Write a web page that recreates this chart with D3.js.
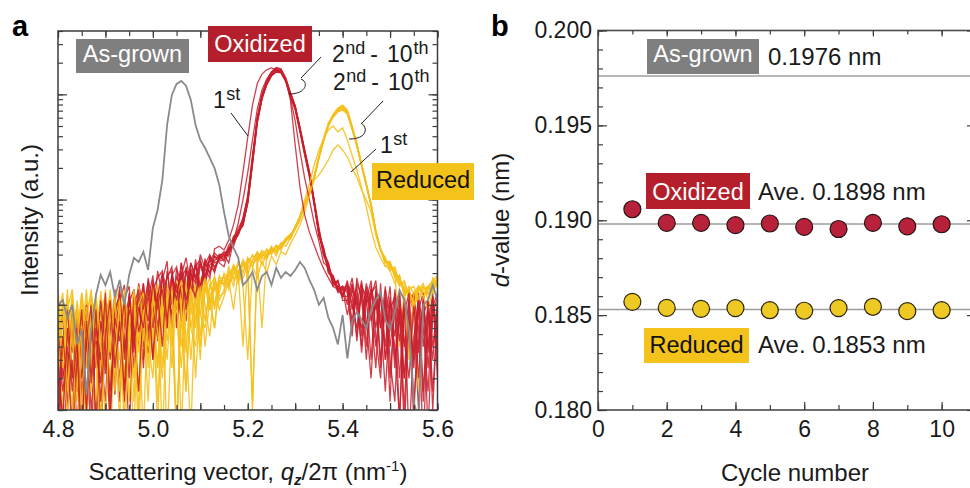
<!DOCTYPE html>
<html>
<head>
<meta charset="utf-8">
<script src="https://cdn.jsdelivr.net/npm/d3@7"></script>
<style>
  body { margin: 0; background: #fff; }
  svg { font-family: "Liberation Sans", Arial, sans-serif; }
</style>
</head>
<body>
<svg id="chart" width="970" height="488"></svg>
<script>
// ---------- panel a: XRD profiles ----------
// scattering vector q_z/2pi (nm^-1)
let qValues = [4.80,4.81,4.82,4.83,4.84,4.85,4.86,4.87,4.88,4.89,4.90,4.91,4.92,4.93,4.94,4.95,4.96,4.97,4.98,4.99,
  5.00,5.01,5.02,5.03,5.04,5.05,5.06,5.07,5.08,5.09,5.10,5.11,5.12,5.13,5.14,5.15,5.16,5.17,5.18,5.19,
  5.20,5.21,5.22,5.23,5.24,5.25,5.26,5.27,5.28,5.29,5.30,5.31,5.32,5.33,5.34,5.35,5.36,5.37,5.38,5.39,
  5.40,5.41,5.42,5.43,5.44,5.45,5.46,5.47,5.48,5.49,5.50,5.51,5.52,5.53,5.54,5.55,5.56,5.57,5.58,5.59,5.60];

let asGrown = [100,111,75,100,42,58,14,58,124,192,154,205,119,172,100,192,279,255,318,214,
  537,796,1535,5120,9870,12560,13400,12020,8850,5120,3690,3090,2485,1995,1377,762,451,347,279,154,
  172,205,138,188,205,154,224,180,205,188,214,255,224,172,138,100,116,75,60,42,
  80,31,69,86,72,60,89,111,132,72,58,86,138,111,58,12,8,100,111,154,111];

// oxidized, cycles 1..10
let oxidized1 = [30,8,60,15,45,5,70,20,90,12,55,110,25,70,15,130,40,95,60,150,30,120,200,70,180,110,250,90,200,160,300,220,180,340,360,
  332,413,574,889,1830,3900,7900,12600,15600,17100,17800,17100,16300,13700,8800,3300,1320,710,490,370,280,220,180,150,140,120,
  150,60,130,35,110,170,50,20,120,40,100,8,85,130,25,95,12,110,40,90];
let oxidized2 = [12,50,20,80,6,40,100,18,60,30,130,10,75,45,110,20,140,55,90,170,60,130,40,210,100,160,70,230,150,120,260,190,280,230,270,
  300,250,410,600,1000,1800,3700,7200,11000,14000,16200,17400,16800,13600,9200,5600,2900,1600,1000,600,400,250,230,150,170,110,
  110,160,45,140,70,20,130,60,150,30,12,110,45,20,100,35,120,6,80,120];
let oxidized3 = [70,20,40,5,30,90,10,55,25,110,40,8,80,130,35,90,60,15,120,70,160,95,140,60,190,130,210,110,170,240,150,250,200,290,250,
  230,330,360,500,560,930,2200,5400,9100,12500,15200,16500,16300,13900,10200,7700,4800,2900,1800,980,520,300,250,160,170,120,
  170,90,150,50,140,80,25,160,30,110,50,130,20,70,8,110,40,100,15,75];
let oxidized4 = [8,35,90,20,60,12,45,100,6,70,25,85,40,150,18,110,50,130,30,180,100,50,200,140,80,220,160,120,250,190,140,270,230,210,290,
  320,290,450,480,680,1050,2500,5900,9800,13300,16200,17800,17300,14100,10100,7500,4500,2700,1650,900,450,330,200,180,130,140,
  80,140,100,170,40,130,150,30,100,12,140,45,110,5,50,90,130,25,100,40];
let oxidized5 = [40,4,25,65,15,50,9,80,35,18,95,30,140,12,70,120,25,85,160,45,150,90,170,260,60,190,130,70,220,180,250,160,290,250,260,
  270,340,380,470,620,950,2300,5600,9300,12600,15300,16600,16400,13500,9700,7300,4600,2800,1750,950,470,340,210,190,140,150,
  130,50,180,110,60,150,90,130,40,120,25,90,10,100,130,20,80,110,10,95];
let oxidized6 = [55,15,35,8,75,20,60,10,40,105,22,70,14,90,50,6,100,140,40,115,30,150,90,190,210,60,180,220,110,270,150,240,300,220,280,
  310,330,440,470,650,1020,2450,5800,9600,13000,15800,17200,16900,14000,10300,7800,4900,3000,1850,1000,540,320,250,165,160,125,
  160,100,60,150,120,30,140,80,15,90,120,20,100,35,120,60,5,70,120,30];
let oxidized7 = [6,45,18,85,30,4,65,22,95,35,12,100,50,20,115,150,35,130,25,150,70,210,120,60,200,100,250,140,210,110,240,180,270,200,300,
  260,350,390,510,570,960,2250,5500,9200,12500,15000,16300,16000,13200,9500,7100,4400,2650,1650,890,480,290,230,160,150,120,
  120,180,90,60,160,100,40,120,70,150,30,100,6,80,30,120,60,15,95,130];
let oxidized8 = [45,80,10,30,5,60,25,100,8,70,35,15,90,125,30,105,140,40,160,55,170,45,140,180,230,90,200,130,250,170,140,260,200,290,270,
  280,370,420,540,640,1100,2600,6100,10000,13500,16400,18000,17500,14400,10400,7700,4700,2850,1750,940,500,300,240,160,150,140,
  140,70,160,120,30,120,170,60,110,20,95,130,40,110,12,45,100,40,130,20];
let oxidized9 = [20,9,60,35,100,14,50,5,55,25,80,115,30,70,12,125,60,160,90,35,140,180,210,80,160,70,190,280,150,240,120,230,260,310,280,
  290,300,410,460,600,920,2150,5300,9000,12300,15000,16400,16200,13600,10000,7600,4750,2900,1780,960,470,350,215,185,140,150,
  100,150,110,40,150,70,120,25,140,80,40,8,120,60,35,130,15,90,30,110];
let oxidized10 = [80,25,12,55,20,90,8,40,75,5,50,95,30,105,155,25,85,115,50,110,190,60,150,90,190,230,100,210,140,230,270,160,240,260,300,
  300,320,430,480,630,1000,2400,5750,9500,12900,15700,17100,16700,13800,9900,7450,4600,2780,1720,935,460,330,210,180,135,145,
  150,120,50,160,100,140,60,130,30,60,130,70,20,140,80,10,110,35,120,50];

// reduced, cycles 1..10
let reduced1 = [40,110,15,80,4,50,95,20,130,45,8,90,30,110,5,60,140,35,90,12,120,55,20,110,150,6,100,15,130,60,150,40,120,160,90,
  120,170,90,210,150,30,230,180,260,200,290,240,320,300,380,460,574,762,1100,1535,1714,2000,2377,2960,3300,
  2960,2540,2000,1620,1232,990,762,460,332,240,210,160,190,120,140,100,150,120,90,140,160];
let reduced2 = [90,25,120,40,100,10,75,140,30,5,85,35,120,15,95,40,6,100,130,45,20,140,60,160,25,120,170,50,6,140,80,180,110,60,150,
  190,140,240,170,260,210,12,250,300,280,340,310,390,360,430,520,700,1000,1400,2130,2960,3800,4590,5000,4400,
  4800,3690,2640,1910,1290,850,520,350,280,230,250,190,150,170,120,90,140,160,110,180,150];
let reduced3 = [120,45,8,95,30,130,60,15,100,35,140,4,75,120,20,90,110,10,60,150,80,25,130,5,70,140,90,160,30,120,40,140,180,90,170,
  160,200,150,250,200,280,230,310,280,340,300,360,340,430,420,560,690,900,1200,1650,2550,3750,5200,6300,7200,
  7700,6900,4900,3350,2150,1400,900,500,340,270,230,210,170,140,30,130,150,120,140,170,190];
let reduced4 = [20,85,40,130,15,90,5,110,45,120,25,100,50,8,120,60,20,130,45,100,150,12,85,120,40,170,6,110,150,70,180,100,50,170,120,
  130,210,180,190,270,220,260,320,270,290,350,320,360,400,470,520,650,880,1170,1600,2470,3620,5050,6150,6900,
  7200,6500,4700,3250,2100,1360,880,490,330,280,210,230,160,150,130,100,120,150,130,140,180];
let reduced5 = [75,130,30,10,110,45,140,30,12,90,120,40,15,130,70,25,140,60,6,110,45,160,100,30,140,5,130,35,160,20,120,170,110,60,180,
  180,150,230,200,40,280,250,270,330,300,320,370,350,420,440,550,680,900,1210,1640,2550,3720,5150,6280,7150,
  7650,6850,4850,3320,2140,1380,895,495,335,260,250,200,180,130,140,150,110,140,150,130,160];
let reduced6 = [140,35,100,50,12,120,25,90,110,18,70,130,60,30,140,12,100,45,120,25,90,130,5,100,170,110,40,140,80,170,50,150,90,190,110,
  140,190,220,160,250,240,10,300,290,330,310,340,380,410,460,530,660,880,1180,1610,2500,3680,5100,6100,6800,
  7100,6500,4700,3290,2120,1370,885,490,330,270,220,215,40,145,115,125,140,135,125,160,175];
let reduced7 = [60,10,90,140,45,20,110,50,5,100,35,140,18,90,40,120,12,150,70,40,130,25,150,90,60,6,150,100,180,110,30,160,90,150,170,
  170,160,200,240,230,260,290,280,60,310,330,350,360,400,450,540,670,890,1190,1620,2520,3700,5130,6260,7120,
  7620,6820,4820,3310,2140,1380,890,492,332,265,240,190,175,140,130,115,135,145,140,150,165];
let reduced8 = [100,40,140,20,90,35,8,130,60,25,110,12,100,50,130,30,90,5,110,140,30,100,140,45,120,160,70,15,130,150,80,60,160,100,190,
  150,230,170,210,250,190,270,310,240,300,360,290,380,420,440,550,690,920,1230,1680,2620,3850,5350,6500,7400,
  7900,7100,5000,3430,2200,1420,910,505,340,250,260,180,190,120,150,130,15,110,150,170,150];
let reduced9 = [25,100,55,110,30,5,85,120,35,135,55,20,110,140,10,100,45,120,140,30,100,7,120,60,150,80,25,150,60,120,160,70,150,180,130,
  200,170,190,260,180,240,300,260,320,270,340,330,350,430,470,520,640,860,1150,1580,2450,3600,5000,6100,6950,
  7400,6600,4650,3200,2080,1350,870,485,330,275,215,220,155,160,125,110,150,125,145,135,190];
let reduced10 = [110,30,15,100,50,130,40,20,120,8,95,110,30,100,120,45,130,15,90,130,50,120,25,140,70,120,140,170,60,40,140,190,110,140,160,
  160,180,240,200,210,270,230,290,310,290,320,360,330,410,460,545,675,895,1200,1630,2530,3710,5140,6270,7140,
  7640,6840,4840,3330,2150,1390,895,495,335,262,245,195,178,135,128,120,138,150,128,158,168];

// drawing order: the two series are interleaved, cycle 10 first
let curveStack = [
  ["reduced", reduced10], ["oxidized", oxidized10], ["reduced", reduced9], ["oxidized", oxidized9],
  ["reduced", reduced8], ["oxidized", oxidized8], ["reduced", reduced7], ["oxidized", oxidized7],
  ["reduced", reduced6], ["oxidized", oxidized6], ["reduced", reduced5], ["oxidized", oxidized5],
  ["reduced", reduced4], ["oxidized", oxidized4], ["reduced", reduced3], ["oxidized", oxidized3],
  ["reduced", reduced2], ["oxidized", oxidized2], ["reduced", reduced1], ["oxidized", oxidized1]
];

// ---------- panel b: d-values ----------
let cycles = [1, 2, 3, 4, 5, 6, 7, 8, 9, 10];
let oxidizedD = [0.19058, 0.18986, 0.18986, 0.18974, 0.18983, 0.18965, 0.18954, 0.18986, 0.18968, 0.18979];
let reducedD = [0.18570, 0.18538, 0.18533, 0.18537, 0.18526, 0.18523, 0.18537, 0.18544, 0.18521, 0.18526];
let levels = [0.1976, 0.1898, 0.1853];

let red = "#c81e2d";
let yellow = "#f5bf1a";
let grey = "#8a8a8a";
let frameColor = "#3d3d3d";

let svg = d3.select("#chart");

let xA = d3.scaleLinear().domain([4.8, 5.6]).range([58, 437.5]);
let yA = d3.scaleLog().domain([10, 40000]).range([410, 31]);
let xB = d3.scaleLinear().domain([0, 11]).range([598, 976]);
let yB = d3.scaleLinear().domain([0.18, 0.2]).range([410, 30.5]);

let tickAxis = (axisFn, scale, values, size, transform) => {
  let g = svg.append("g")
    .attr("transform", transform)
    .call(axisFn(scale).tickValues(values).tickSize(size).tickFormat(""));
  g.select(".domain").remove();
  g.selectAll("line").attr("stroke", frameColor).attr("stroke-width", 1.2);
};

let labelAxis = (axis, transform) => {
  let g = svg.append("g").attr("transform", transform).call(axis);
  g.select(".domain").remove();
  g.attr("font-family", null).attr("font-size", 23);
  g.selectAll("text").attr("fill", "#1a1a1a");
};

let isDecade = (d) => Math.abs(Math.log10(d) - Math.round(Math.log10(d))) < 1e-9;

// ===== panel a =====
let drawPanelA = () => {
  svg.append("clipPath").attr("id", "clipA")
    .append("rect").attr("x", 58).attr("y", 31).attr("width", 379.5).attr("height", 379);

  let line = d3.line()
    .x((d, i) => xA(qValues[i]))
    .y((d) => yA(d));

  let curves = svg.append("g").attr("clip-path", "url(#clipA)");

  curves.selectAll(".cycle").data(curveStack).enter()
    .append("path").attr("class", "cycle")
    .attr("d", (d) => line(d[1])).attr("fill", "none")
    .attr("stroke", (d) => (d[0] === "oxidized" ? red : yellow))
    .attr("stroke-width", 1.3)
    .attr("stroke-opacity", (d) => (d[0] === "oxidized" ? 0.85 : 0.9));

  curves.append("path").datum(asGrown)
    .attr("d", line).attr("fill", "none")
    .attr("stroke", grey).attr("stroke-width", 1.8);

  // frame and inward ticks
  svg.append("rect").attr("x", 58).attr("y", 31).attr("width", 379.5).attr("height", 379)
    .attr("fill", "none").attr("stroke", frameColor).attr("stroke-width", 1.5);

  let minorX = xA.ticks(16), majorX = xA.ticks(8);
  tickAxis(d3.axisTop, xA, minorX, 5, "translate(0,410)");
  tickAxis(d3.axisTop, xA, majorX, 7, "translate(0,410)");
  tickAxis(d3.axisBottom, xA, minorX, 5, "translate(0,31)");
  tickAxis(d3.axisBottom, xA, majorX, 7, "translate(0,31)");

  let logTicks = yA.ticks();
  let decades = logTicks.filter(isDecade);
  tickAxis(d3.axisRight, yA, logTicks, 5, "translate(58,0)");
  tickAxis(d3.axisRight, yA, decades, 9, "translate(58,0)");
  tickAxis(d3.axisLeft, yA, logTicks, 5, "translate(437.5,0)");
  tickAxis(d3.axisLeft, yA, decades, 9, "translate(437.5,0)");

  labelAxis(d3.axisBottom(xA).tickValues(xA.ticks(4)).tickSize(0).tickPadding(11).tickFormat(d3.format(".1f")),
    "translate(0,410)");

  // axis titles
  let xt = svg.append("text").attr("x", 248).attr("y", 480)
    .attr("text-anchor", "middle").attr("font-size", 24).attr("fill", "#1a1a1a");
  xt.append("tspan").text("Scattering vector, ");
  xt.append("tspan").attr("font-style", "italic").text("q");
  xt.append("tspan").attr("font-style", "italic").attr("font-weight", "bold")
    .attr("font-size", 15).attr("dy", 5).text("z");
  xt.append("tspan").attr("dy", -5).text("/2π (nm");
  xt.append("tspan").attr("font-size", 15).attr("dy", -9).text("-1");
  xt.append("tspan").attr("dy", 9).text(")");

  svg.append("text").attr("transform", "translate(38,220) rotate(-90)")
    .attr("text-anchor", "middle").attr("font-size", 24).attr("fill", "#1a1a1a")
    .text("Intensity (a.u.)");
};

let supLabel = (x, y, parts) => {
  let t = svg.append("text").attr("x", x).attr("y", y).attr("fill", "#1a1a1a").attr("font-size", 23);
  let raised = false;
  parts.forEach((p) => {
    let s = t.append("tspan").text(p.t).attr("dx", p.dx || 0);
    if (p.sup && !raised) { s.attr("font-size", 18).attr("dy", -8); raised = true; }
    else if (!p.sup && raised) { s.attr("dy", 8); raised = false; }
    else if (p.sup) s.attr("font-size", 18);
  });
};

let boxLabel = (x, y, w, h, fill, color, label, baseline) => {
  svg.append("rect").attr("x", x).attr("y", y).attr("width", w).attr("height", h).attr("fill", fill);
  svg.append("text").attr("x", x + w / 2).attr("y", baseline)
    .attr("text-anchor", "middle").attr("font-size", 23.5).attr("fill", color).text(label);
};

let drawAnnotationsA = () => {
  boxLabel(76, 39, 113, 34, "#7f7f7f", "#fff", "As-grown", 62);
  boxLabel(208, 26, 104, 36, "#b51e2b", "#fff", "Oxidized", 52);
  boxLabel(372, 163, 102, 37, "#f3c31c", "#111", "Reduced", 188);

  let range = [{ t: "2" }, { t: "nd", sup: true, dx: 0.5 }, { t: "-", dx: 5 }, { t: "10", dx: 9 }, { t: "th", sup: true, dx: 1 }];
  supLabel(332, 62, range);
  supLabel(333, 90, range);
  supLabel(213, 108, [{ t: "1" }, { t: "st", sup: true, dx: 0.5 }]);
  supLabel(380, 153, [{ t: "1" }, { t: "st", sup: true, dx: 0.5 }]);

  let leaders = [
    "M231,113 L248,136",
    "M321,57 L301,78 M301,79 C308,81 308,94 289,94",
    "M383,101 L362,123 M361,123 C368,127 368,139 349,139",
    "M376,149 L351,172"
  ];
  svg.selectAll(".leader").data(leaders).enter()
    .append("path").attr("class", "leader").attr("d", (d) => d)
    .attr("fill", "none").attr("stroke", "#222").attr("stroke-width", 1);
};

// ===== panel b =====
let drawPanelB = () => {
  svg.selectAll(".level").data(levels).enter()
    .append("line").attr("class", "level")
    .attr("x1", xB(0)).attr("x2", xB(11))
    .attr("y1", (d) => yB(d)).attr("y2", (d) => yB(d))
    .attr("stroke", "#9c9c9c").attr("stroke-width", 1.6);

  svg.append("rect").attr("x", 598).attr("y", 30.5).attr("width", 378).attr("height", 379.5)
    .attr("fill", "none").attr("stroke", "#4a4a4a").attr("stroke-width", 1.6);

  let minorY = yB.ticks(20), majorY = yB.ticks(4);
  tickAxis(d3.axisRight, yB, minorY, 5, "translate(598,0)");
  tickAxis(d3.axisRight, yB, majorY, 9, "translate(598,0)");
  tickAxis(d3.axisLeft, yB, minorY, 5, "translate(976,0)");
  tickAxis(d3.axisLeft, yB, majorY, 9, "translate(976,0)");
  let minorC = xB.ticks(11), majorC = xB.ticks(6);
  tickAxis(d3.axisTop, xB, minorC, 5, "translate(0,410)");
  tickAxis(d3.axisTop, xB, majorC, 8, "translate(0,410)");
  tickAxis(d3.axisBottom, xB, minorC, 4, "translate(0,30.5)");
  tickAxis(d3.axisBottom, xB, majorC, 6, "translate(0,30.5)");

  labelAxis(d3.axisLeft(yB).tickValues(majorY).tickSize(0).tickPadding(6).tickFormat(d3.format(".3f")),
    "translate(598,0)");
  labelAxis(d3.axisBottom(xB).tickValues(majorC).tickSize(0).tickPadding(11).tickFormat(d3.format("d")),
    "translate(0,410)");

  svg.selectAll(".oxPt").data(oxidizedD).enter()
    .append("circle").attr("class", "oxPt")
    .attr("cx", (d, i) => xB(cycles[i])).attr("cy", (d) => yB(d)).attr("r", 8.5)
    .attr("fill", "#b7213a").attr("stroke", "#2a1515").attr("stroke-width", 1.2);

  svg.selectAll(".redPt").data(reducedD).enter()
    .append("circle").attr("class", "redPt")
    .attr("cx", (d, i) => xB(cycles[i])).attr("cy", (d) => yB(d)).attr("r", 8.5)
    .attr("fill", "#eec923").attr("stroke", "#2a2410").attr("stroke-width", 1.2);

  boxLabel(647, 39, 112, 35, "#7f7f7f", "#fff", "As-grown", 62);
  boxLabel(646, 173, 104, 36, "#b51e2b", "#fff", "Oxidized", 199.5);
  boxLabel(644, 328, 105, 35, "#f3c31c", "#111", "Reduced", 352.5);

  let notes = [["0.1976 nm", 768, 64.5], ["Ave. 0.1898 nm", 758, 199.5], ["Ave. 0.1853 nm", 758, 352.5]];
  svg.selectAll(".note").data(notes).enter()
    .append("text").attr("class", "note")
    .attr("x", (d) => d[1]).attr("y", (d) => d[2])
    .attr("font-size", 24).attr("fill", "#1a1a1a").text((d) => d[0]);

  svg.append("text").attr("x", 795).attr("y", 481)
    .attr("text-anchor", "middle").attr("font-size", 24).attr("fill", "#1a1a1a")
    .text("Cycle number");

  let yt = svg.append("text").attr("transform", "translate(509,220) rotate(-90)")
    .attr("text-anchor", "middle").attr("font-size", 24).attr("fill", "#1a1a1a");
  yt.append("tspan").attr("font-style", "italic").text("d");
  yt.append("tspan").text("-value (nm)");
};

drawPanelA();
drawAnnotationsA();
drawPanelB();

svg.append("text").attr("x", 12).attr("y", 36).attr("font-size", 29).attr("font-weight", "bold").text("a");
svg.append("text").attr("x", 491).attr("y", 36).attr("font-size", 29).attr("font-weight", "bold").text("b");
</script>
</body>
</html>
